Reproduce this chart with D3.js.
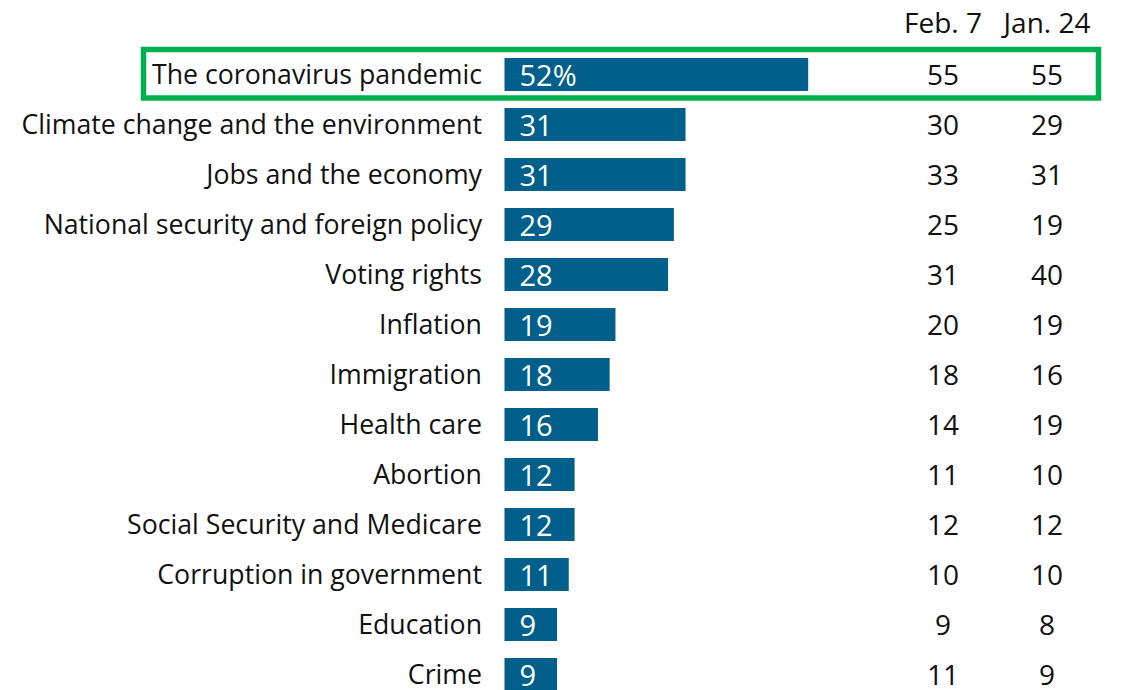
<!DOCTYPE html>
<html>
<head>
<meta charset="utf-8">
<script src="https://cdn.jsdelivr.net/npm/d3@7"></script>
<style>
  body { margin: 0; background: #fff; }
  text { font-family: "Open Sans", sans-serif; font-weight: 500; }
</style>
</head>
<body>
<svg id="mainsvg"></svg>
<script>
let categories = ["The coronavirus pandemic", "Climate change and the environment", "Jobs and the economy",
    "National security and foreign policy", "Voting rights", "Inflation", "Immigration", "Health care",
    "Abortion", "Social Security and Medicare", "Corruption in government", "Education", "Crime"];
let current = [52, 31, 31, 29, 28, 19, 18, 16, 12, 12, 11, 9, 9];
let feb7 = [55, 30, 33, 25, 31, 20, 18, 14, 11, 12, 10, 9, 11];
let jan24 = [55, 29, 31, 19, 40, 19, 16, 19, 10, 12, 10, 8, 9];
let columns = ["Feb. 7", "Jan. 24"];

let svgWidth = 1122, svgHeight = 690,
    barLeft = 504.5,
    pxPerUnit = 5.84,
    labelRight = 482,
    barColor = "#005f8b",
    boxColor = "#00b050";

let mainsvg = d3.select("#mainsvg").attr("width", svgWidth).attr("height", svgHeight);

let scaleX = d3.scaleLinear().domain([0, 52]).range([barLeft, barLeft + 52 * pxPerUnit]);
let scaleY = d3.scaleBand().domain(categories).range([49.5, 699.5]).paddingInner(0.34).paddingOuter(0.17);
let colX = d3.scalePoint().domain(columns).range([943, 1047]);

// highlight box round the first row
mainsvg.append("rect")
    .attr("x", 143.5).attr("y", 49.5)
    .attr("width", 955).attr("height", 48.5)
    .attr("fill", "none")
    .attr("stroke", boxColor)
    .attr("stroke-width", 5.5);

let rows = mainsvg.append("g").selectAll("g").data(categories).enter().append("g")
    .attr("transform", d => `translate(0, ${scaleY(d)})`);

rows.append("rect")
    .attr("x", scaleX(0))
    .attr("y", 0)
    .attr("width", (d, i) => scaleX(current[i]) - scaleX(0))
    .attr("height", scaleY.bandwidth())
    .attr("fill", barColor);

let bh = scaleY.bandwidth();

rows.append("text")
    .attr("x", labelRight)
    .attr("y", bh / 2)
    .attr("dy", "0.36em")
    .attr("text-anchor", "end")
    .attr("font-size", 26.7)
    .attr("fill", "#111")
    .text(d => d);

rows.append("text")
    .attr("x", scaleX(0) + 15)
    .attr("y", bh / 2)
    .attr("dy", "0.38em")
    .attr("font-size", 29)
    .attr("fill", "#fff")
    .text((d, i) => i === 0 ? current[i] + "%" : current[i]);

rows.append("text")
    .attr("x", colX("Feb. 7"))
    .attr("y", bh / 2)
    .attr("dy", "0.36em")
    .attr("text-anchor", "middle")
    .attr("font-size", 28)
    .attr("fill", "#111")
    .text((d, i) => feb7[i]);

rows.append("text")
    .attr("x", colX("Jan. 24"))
    .attr("y", bh / 2)
    .attr("dy", "0.36em")
    .attr("text-anchor", "middle")
    .attr("font-size", 28)
    .attr("fill", "#111")
    .text((d, i) => jan24[i]);

mainsvg.append("g").selectAll("text").data(columns).enter().append("text")
    .attr("x", d => colX(d))
    .attr("y", 33)
    .attr("text-anchor", "middle")
    .attr("font-size", 28)
    .attr("fill", "#111")
    .text(d => d);
</script>
</body>
</html>
